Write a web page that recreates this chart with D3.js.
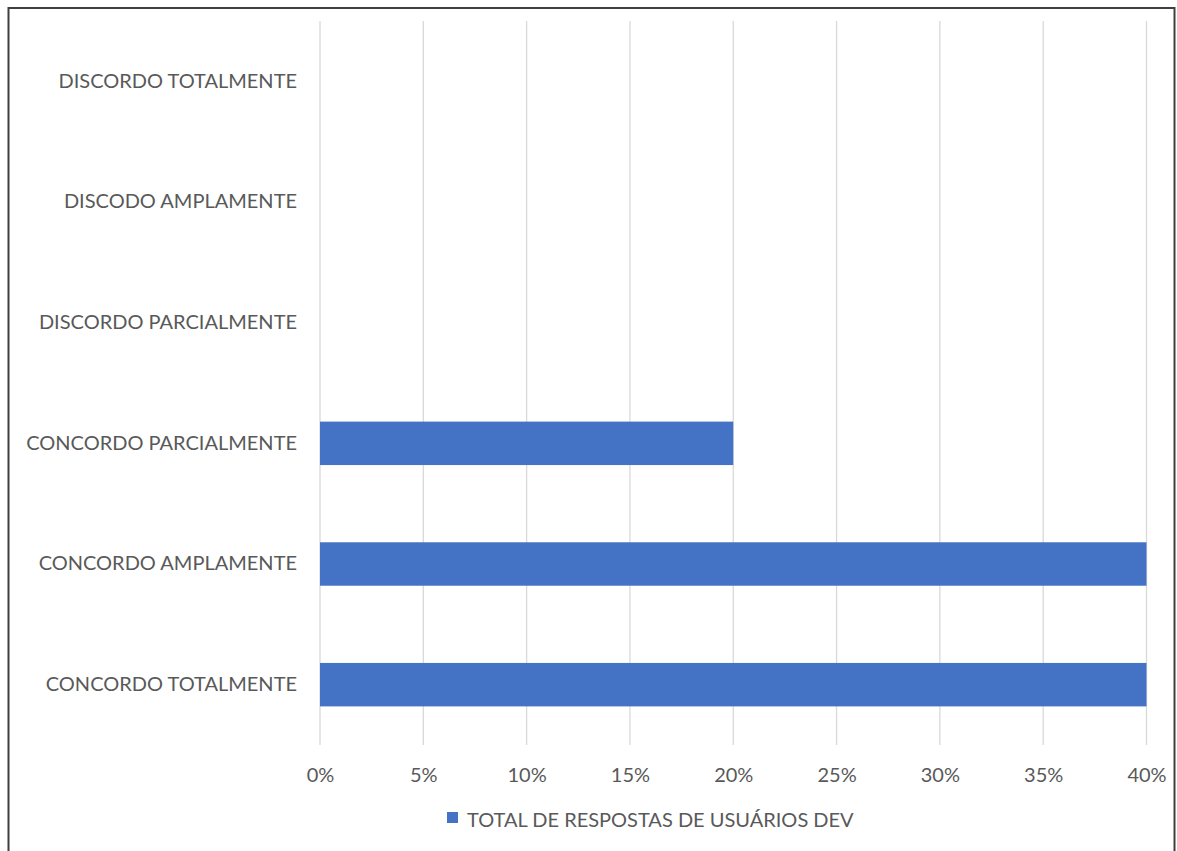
<!DOCTYPE html>
<html>
<head>
<meta charset="utf-8">
<script src="https://cdn.jsdelivr.net/npm/d3@7"></script>
<style>
  body { margin: 0; background: #fff; }
  text { font-family: Lato, "Open Sans", sans-serif; fill: #595959; }
</style>
</head>
<body>
<script>
// Chart data
var categories = ["DISCORDO TOTALMENTE", "DISCODO AMPLAMENTE", "DISCORDO PARCIALMENTE",
  "CONCORDO PARCIALMENTE", "CONCORDO AMPLAMENTE", "CONCORDO TOTALMENTE"];
var values = [0, 0, 0, 0.20, 0.40, 0.40];
var tickValues = [0, 0.05, 0.10, 0.15, 0.20, 0.25, 0.30, 0.35, 0.40];
var seriesName = "TOTAL DE RESPOSTAS DE USUÁRIOS DEV";

var svgWidth = 1177;
var svgHeight = 851;

var chartMargin = { top: 21, right: 30, bottom: 106, left: 320 };
var width = 1146.5 - chartMargin.left;
var height = 745 - chartMargin.top;

var svg = d3.select("body")
  .append("svg")
  .attr("width", svgWidth)
  .attr("height", svgHeight);

// outer frame (bottom edge falls outside the picture)
svg.append("rect")
  .attr("x", 8.5)
  .attr("y", 8)
  .attr("width", 1166)
  .attr("height", 900)
  .attr("fill", "none")
  .attr("stroke", "#3f3f3f")
  .attr("stroke-width", 2);

var chartGroup = svg.append("g")
  .attr("transform", `translate(${chartMargin.left}, ${chartMargin.top})`);

var xLinearScale = d3.scaleLinear()
  .domain([0, 0.40])
  .range([0, width]);

var yBandScale = d3.scaleBand()
  .domain(categories)
  .range([0, height])
  .paddingInner(0.64)
  .paddingOuter(0.32);

// vertical gridlines
chartGroup.append("g")
  .selectAll("line")
  .data(tickValues)
  .enter()
  .append("line")
  .attr("x1", d => xLinearScale(d))
  .attr("x2", d => xLinearScale(d))
  .attr("y1", 0)
  .attr("y2", height)
  .attr("stroke", "#d9d9d9")
  .attr("stroke-width", 1.3);

// bottom axis labels only
var bottomAxis = d3.axisBottom(xLinearScale)
  .tickValues(tickValues)
  .tickFormat(d3.format(".0%"))
  .tickSize(0)
  .tickPadding(23);

var xAxis = chartGroup.append("g")
  .attr("transform", `translate(0, ${height})`)
  .call(bottomAxis);
xAxis.select(".domain").remove();
xAxis.selectAll("text")
  .style("font-size", "20px")
  .attr("fill", "#595959");

// left axis labels
var leftAxis = d3.axisLeft(yBandScale)
  .tickSize(0)
  .tickPadding(23);

var yAxis = chartGroup.append("g")
  .call(leftAxis);
yAxis.select(".domain").remove();
yAxis.selectAll("text")
  .style("font-size", "20px")
  .attr("fill", "#595959");

// bars
chartGroup.selectAll(".bar")
  .data(values)
  .enter()
  .append("rect")
  .classed("bar", true)
  .attr("x", 0)
  .attr("y", (d, i) => yBandScale(categories[i]))
  .attr("width", d => xLinearScale(d))
  .attr("height", yBandScale.bandwidth())
  .attr("fill", "#4472c4");

// legend
var legend = svg.append("g")
  .attr("transform", "translate(447, 812)");
legend.append("rect")
  .attr("width", 11)
  .attr("height", 11)
  .attr("fill", "#4472c4");
legend.append("text")
  .attr("x", 20)
  .attr("y", 15)
  .style("font-size", "20px")
  .text(seriesName);
</script>
</body>
</html>
